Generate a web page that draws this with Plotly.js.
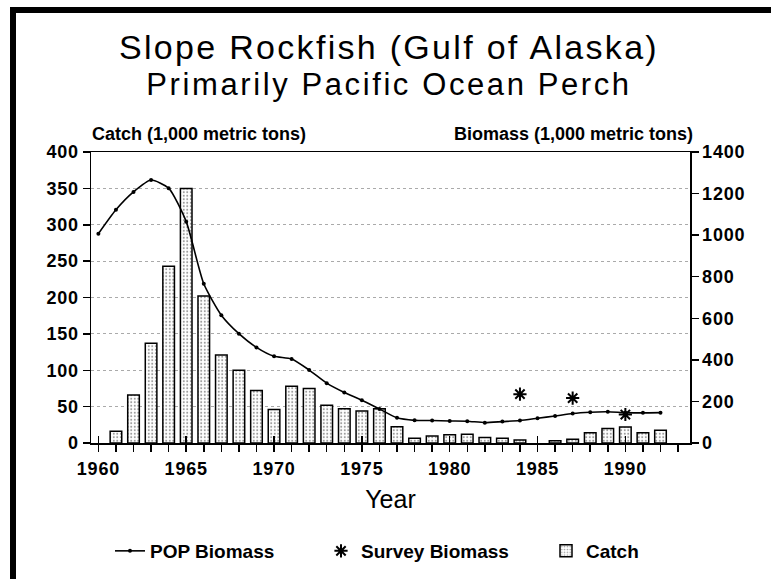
<!DOCTYPE html>
<html><head><meta charset="utf-8">
<script src="https://cdn.plot.ly/plotly-3.0.1.min.js"></script>
<style>
html,body{margin:0;padding:0;background:#fff;}
#wrap{position:relative;width:771px;height:579px;overflow:hidden;}
#chart{width:771px;height:579px;}
#frame{position:absolute;left:10px;top:7px;right:-10px;bottom:-10px;border-left:6px solid #000;border-top:6px solid #000;pointer-events:none;}
.gtitle{letter-spacing:2.3px;}
g.annotation[data-index="0"] text{letter-spacing:2.6px;}
g.xtick text, g.ytick text, g.y2tick text{letter-spacing:0.8px;}
</style></head><body>
<div id="wrap"><div id="chart"></div><div id="frame"></div></div>
<script>
// ---- data ----
const years = [1960,1961,1962,1963,1964,1965,1966,1967,1968,1969,1970,1971,1972,1973,1974,1975,1976,1977,1978,1979,1980,1981,1982,1983,1984,1985,1986,1987,1988,1989,1990,1991,1992];
const catchVals = [null,16,66,137,243,350,202,121,100,72,46,78,75,52,47,44,47,22.5,6.5,9.5,11.5,12,7.5,6.5,4,null,3,5,14,20,22,14,17.5];
const popBiomass = [1007,1122,1208,1265,1226,1065,766,615,526,460,417,404,351,288,243,206,164,121,109,108,106,105,98,103,108,119,130,142,148,150,146,145,146];
const surveyYears = [1984,1987,1990];
const surveyBiomass = [235,216,137];
const tickYears = [1960,1961,1962,1963,1964,1965,1966,1967,1968,1969,1970,1971,1972,1973,1974,1975,1976,1977,1978,1979,1980,1981,1982,1983,1984,1985,1986,1987,1988,1989,1990,1991,1992,1993];
const tickLabels = ['1960','','','','','1965','','','','','1970','','','','','1975','','','','','1980','','','','','1985','','','','','1990','','',''];
const majorTickYears = [1960,1965,1970,1975,1980,1985,1990];

const FONT = 'Liberation Sans, Arial, Helvetica, sans-serif';

const traces = [
  {
    type:'scatter', name:'POP Biomass', x: years, y: popBiomass, yaxis:'y2', legendwidth:166,
    mode:'lines+markers', line:{color:'#000', width:1.6, shape:'spline', smoothing:0.6},
    marker:{color:'#000', size:4}
  },
  {
    type:'scatter', name:'Survey Biomass', x: surveyYears, y: surveyBiomass, yaxis:'y2', legendwidth:180,
    mode:'markers', marker:{symbol:'asterisk-open', size:11, color:'#000', line:{color:'#000', width:2}}
  },
  {
    type:'bar', name:'Catch', x: years, y: catchVals, width:0.66,
    marker:{color:'#fff', line:{color:'#000', width:1.5},
      pattern:{shape:'.', fgcolor:'#999', bgcolor:'#fff', size:3.5, solidity:0.25}}
  },
  {
    type:'scatter', x:[], y:[], xaxis:'x2', showlegend:false, hoverinfo:'skip'
  }
];

const layout = {
  width:771, height:579,
  paper_bgcolor:'#fff', plot_bgcolor:'#fff',
  margin:{l:91, r:81, t:152, b:136},
  font:{family:FONT, color:'#000'},
  showlegend:true,
  title:{text:'Slope Rockfish (Gulf of Alaska)', font:{family:FONT, size:34, color:'#000'},
    x:389/771, xanchor:'center', y:1-47/579, yanchor:'middle'},
  xaxis:{
    range:[1959.58, 1993.68], tickmode:'array', tickvals: tickYears, ticktext: tickLabels,
    ticks:'outside', ticklen:7, tickwidth:1.5, tickcolor:'#000', ticklabelstandoff:2,
    showline:true, linecolor:'#000', linewidth:1.5, mirror:true,
    showgrid:false, zeroline:false,
    tickfont:{family:FONT, size:18, color:'#000', weight:'bold'},
    title:{text:'Year', font:{family:FONT, size:25, color:'#000'}, standoff:12}
  },
  xaxis2:{
    overlaying:'x', matches:'x', tickmode:'array', tickvals: majorTickYears,
    ticks:'inside', ticklen:7, tickwidth:1.5, tickcolor:'#000', showticklabels:false,
    showline:false, showgrid:false, zeroline:false, side:'bottom', anchor:'y'
  },
  yaxis:{
    range:[0,400], dtick:50, ticks:'outside', ticklen:7, tickwidth:1.5, tickcolor:'#000',
    showline:true, linecolor:'#000', linewidth:1.5,
    showgrid:true, gridcolor:'#aaa', griddash:'dot', gridwidth:1, zeroline:false,
    tickfont:{family:FONT, size:18, color:'#000', weight:'bold'}
  },
  yaxis2:{
    overlaying:'y', side:'right', range:[0,1400], dtick:200,
    ticks:'outside', ticklen:7, tickwidth:1.5, tickcolor:'#000',
    showline:true, linecolor:'#000', linewidth:1.5, showgrid:false, zeroline:false,
    tickfont:{family:FONT, size:18, color:'#000', weight:'bold'}
  },
  legend:{orientation:'h', xref:'paper', yref:'container', x:(110-91)/599, xanchor:'left',
    y:1-551/579, yanchor:'middle',
    font:{family:FONT, size:19, color:'#000', weight:'bold'}, traceorder:'normal',
    bgcolor:'rgba(0,0,0,0)'},
  annotations:[
    {text:'Primarily Pacific Ocean Perch', xref:'paper', yref:'paper', x:(389-91)/599, y:(443-85)/291,
      xanchor:'center', yanchor:'middle', showarrow:false, font:{family:FONT, size:31, color:'#000'}},
    {text:'Catch (1,000 metric tons)', xref:'paper', yref:'paper', x:(90-91)/599, y:(443-134)/291,
      xanchor:'left', yanchor:'middle', showarrow:false, font:{family:FONT, size:18, color:'#000', weight:'bold'}},
    {text:'Biomass (1,000 metric tons)', xref:'paper', yref:'paper', x:(695-91)/599, y:(443-134)/291,
      xanchor:'right', yanchor:'middle', showarrow:false, font:{family:FONT, size:18, color:'#000', weight:'bold'}}
  ],
  bargap:0.3
};

Plotly.newPlot('chart', traces, layout, {displayModeBar:false, staticPlot:true});
</script>
</body></html>
